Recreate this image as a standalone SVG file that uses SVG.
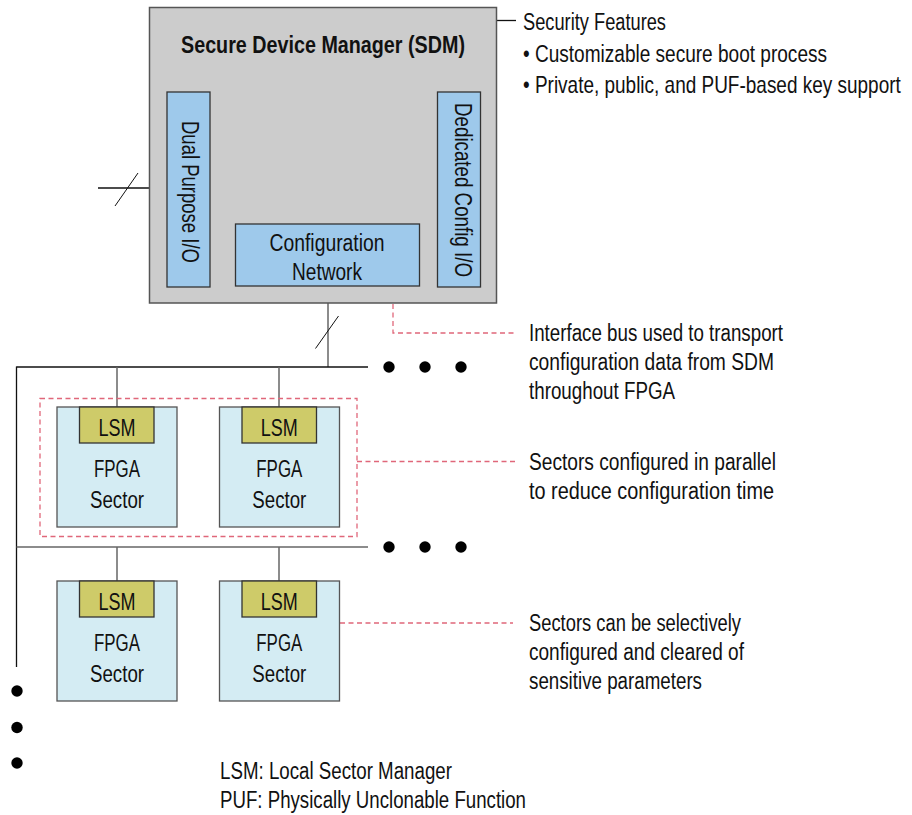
<svg xmlns="http://www.w3.org/2000/svg" width="912" height="815" viewBox="0 0 912 815">
<style>
text{font-family:"Liberation Sans Narrow","Liberation Sans",Arial,sans-serif;font-size:23px;fill:#111}
.t{text-anchor:middle}
.w{font-family:"Liberation Sans",Arial,sans-serif}
.b{font-weight:bold}
.sdm{fill:#cccccc;stroke:#555;stroke-width:1.5}
.io{fill:#9ec9eb;stroke:#333;stroke-width:1.3}
.sec{fill:#d4ecf3;stroke:#555;stroke-width:1.3}
.lsm{fill:#cecb69;stroke:#333;stroke-width:1.3}
.ln{stroke:#111;stroke-width:1.3;fill:none}
.gl{stroke:#666;stroke-width:1.5;fill:none}
.sl{stroke:#111;stroke-width:1;fill:none}
.rd{stroke:#e0677a;stroke-width:1.3;fill:none;stroke-dasharray:5,3.5}
.dot{fill:#000}
</style>
<rect width="912" height="815" fill="#fff"/>
<g id="connectors">
<line class="ln" x1="497" y1="20.5" x2="516" y2="20.5"/>
<line class="ln" x1="98" y1="188" x2="167" y2="188"/>
<line class="sl" x1="115" y1="206" x2="138" y2="173"/>
<line class="gl" x1="328" y1="286" x2="328" y2="367"/>
<line class="sl" x1="315.5" y1="348.5" x2="338.5" y2="316"/>
<line class="ln" x1="16.5" y1="367" x2="368" y2="367"/>
<line class="ln" x1="16.5" y1="366.5" x2="16.5" y2="667"/>
<line class="gl" x1="16.5" y1="547" x2="368" y2="547"/>
<line class="gl" x1="117" y1="367" x2="117" y2="407"/>
<line class="gl" x1="279" y1="367" x2="279" y2="407"/>
<line class="gl" x1="117" y1="547" x2="117" y2="581"/>
<line class="gl" x1="279" y1="547" x2="279" y2="581"/>
<path class="rd" d="M393,287 V333 H516"/>
<path class="rd" d="M357,461.5 H516"/>
<path class="rd" d="M340,623 H513"/>
<rect class="rd" x="40" y="398.5" width="317" height="138"/>
<circle class="dot" cx="389" cy="367" r="5.7"/>
<circle class="dot" cx="425" cy="367" r="5.7"/>
<circle class="dot" cx="461" cy="367" r="5.7"/>
<circle class="dot" cx="389" cy="547" r="5.7"/>
<circle class="dot" cx="425" cy="547" r="5.7"/>
<circle class="dot" cx="461" cy="547" r="5.7"/>
<circle class="dot" cx="17" cy="691" r="5.7"/>
<circle class="dot" cx="17" cy="727.5" r="5.7"/>
<circle class="dot" cx="17" cy="763" r="5.7"/>
</g>
<g id="sdm">
<rect class="sdm" x="149.5" y="7.5" width="347" height="295.5"/>
<text class="t b" x="323" y="53" textLength="284" lengthAdjust="spacingAndGlyphs">Secure Device Manager (SDM)</text>
</g>
<g id="dual-io">
<rect class="io" x="167" y="92" width="43" height="195"/>
<text class="t" transform="translate(181.5,192) rotate(90)" textLength="142" lengthAdjust="spacingAndGlyphs">Dual Purpose I/O</text>
</g>
<g id="dedicated-io">
<rect class="io" x="437.5" y="92" width="43" height="195"/>
<text class="t" transform="translate(455,190) rotate(90)" textLength="174" lengthAdjust="spacingAndGlyphs">Dedicated Config I/O</text>
</g>
<g id="config-network">
<rect class="io" x="235.5" y="224" width="184" height="62"/>
<text class="t" x="327" y="251" textLength="115" lengthAdjust="spacingAndGlyphs">Configuration</text>
<text class="t" x="327" y="280" textLength="70" lengthAdjust="spacingAndGlyphs">Network</text>
</g>
<g id="sector-1">
<rect class="sec" x="57" y="407" width="120" height="120"/>
<rect class="lsm" x="79.5" y="407" width="74.5" height="36"/>
<text class="t" x="117" y="435.7" textLength="37" lengthAdjust="spacingAndGlyphs">LSM</text>
<text class="t" x="117" y="477.3" textLength="46" lengthAdjust="spacingAndGlyphs">FPGA</text>
<text class="t" x="117" y="507.7" textLength="54" lengthAdjust="spacingAndGlyphs">Sector</text>
</g>
<g id="sector-2">
<rect class="sec" x="219.5" y="407" width="120" height="120"/>
<rect class="lsm" x="242" y="407" width="74.5" height="36"/>
<text class="t" x="279.3" y="435.7" textLength="37" lengthAdjust="spacingAndGlyphs">LSM</text>
<text class="t" x="279.3" y="477.3" textLength="46" lengthAdjust="spacingAndGlyphs">FPGA</text>
<text class="t" x="279.3" y="507.7" textLength="54" lengthAdjust="spacingAndGlyphs">Sector</text>
</g>
<g id="sector-3">
<rect class="sec" x="57" y="581" width="120" height="120"/>
<rect class="lsm" x="79.5" y="581" width="74.5" height="36"/>
<text class="t" x="117" y="609.7" textLength="37" lengthAdjust="spacingAndGlyphs">LSM</text>
<text class="t" x="117" y="651.3" textLength="46" lengthAdjust="spacingAndGlyphs">FPGA</text>
<text class="t" x="117" y="681.7" textLength="54" lengthAdjust="spacingAndGlyphs">Sector</text>
</g>
<g id="sector-4">
<rect class="sec" x="219.5" y="581" width="120" height="120"/>
<rect class="lsm" x="242" y="581" width="74.5" height="36"/>
<text class="t" x="279.3" y="609.7" textLength="37" lengthAdjust="spacingAndGlyphs">LSM</text>
<text class="t" x="279.3" y="651.3" textLength="46" lengthAdjust="spacingAndGlyphs">FPGA</text>
<text class="t" x="279.3" y="681.7" textLength="54" lengthAdjust="spacingAndGlyphs">Sector</text>
</g>
<g id="note-security">
<text x="523" y="30" textLength="143" lengthAdjust="spacingAndGlyphs">Security Features</text>
<text x="523" y="61.5" textLength="304" lengthAdjust="spacingAndGlyphs">• Customizable secure boot process</text>
<text class="w" transform="translate(523,93) scale(0.825,1)">• Private, public, and PUF-based key support</text>
</g>
<g id="note-interface">
<text x="529" y="341" textLength="254" lengthAdjust="spacingAndGlyphs">Interface bus used to transport</text>
<text x="529" y="370" textLength="245" lengthAdjust="spacingAndGlyphs">configuration data from SDM</text>
<text x="529" y="399" textLength="146" lengthAdjust="spacingAndGlyphs">throughout FPGA</text>
</g>
<g id="note-parallel">
<text x="529" y="470" textLength="247" lengthAdjust="spacingAndGlyphs">Sectors configured in parallel</text>
<text x="529" y="499" textLength="245" lengthAdjust="spacingAndGlyphs">to reduce configuration time</text>
</g>
<g id="note-selective">
<text x="529" y="631" textLength="212" lengthAdjust="spacingAndGlyphs">Sectors can be selectively</text>
<text x="529" y="660" textLength="215" lengthAdjust="spacingAndGlyphs">configured and cleared of</text>
<text x="529" y="689" textLength="173" lengthAdjust="spacingAndGlyphs">sensitive parameters</text>
</g>
<g id="legend">
<text x="220" y="779" textLength="232" lengthAdjust="spacingAndGlyphs">LSM: Local Sector Manager</text>
<text x="220" y="808" textLength="306" lengthAdjust="spacingAndGlyphs">PUF: Physically Unclonable Function</text>
</g>
</svg>
